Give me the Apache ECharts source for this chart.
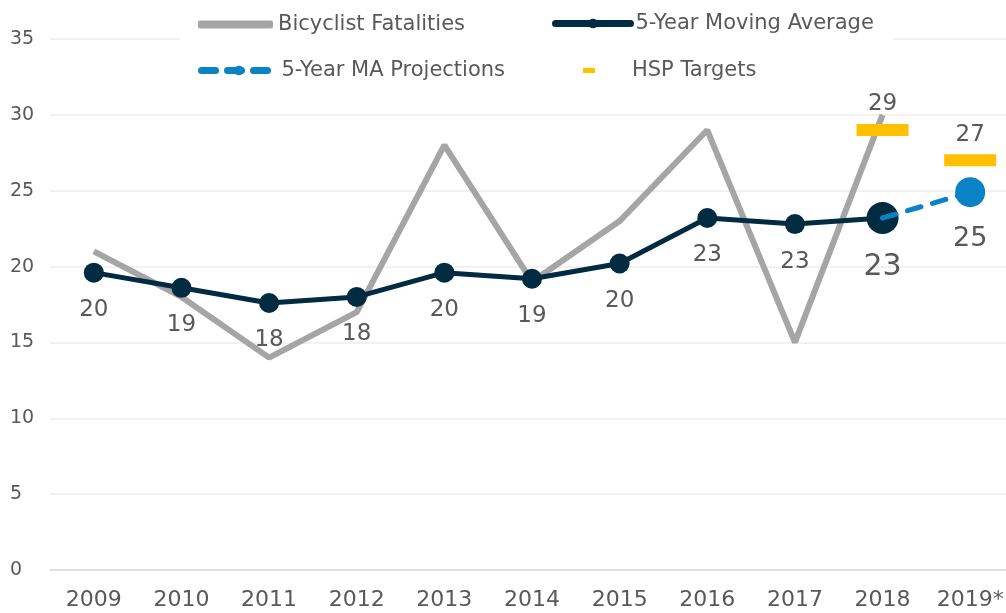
<!DOCTYPE html>
<html>
<head>
<meta charset="utf-8">
<script src="https://cdn.jsdelivr.net/npm/echarts@6/dist/echarts.min.js"></script>
<style>
  html, body { margin: 0; padding: 0; background: #fff; }
  #main { width: 1006px; height: 613px; }
</style>
</head>
<body>
<div id="main"></div>
<script>
const years = ['2009', '2010', '2011', '2012', '2013', '2014', '2015', '2016', '2017', '2018', '2019*'];
const fatalities = [21, 18, 14, 17, 28, 19, 23, 29, 15, 30, '-'];
const movingAvg = [19.6, 18.6, 17.6, 18.0, 19.6, 19.2, 20.2, 23.2, 22.8, 23.2, '-'];
const projections = ['-', '-', '-', '-', '-', '-', '-', '-', '-', 23.2, 24.9];
const targets = ['-', '-', '-', '-', '-', '-', '-', '-', '-', 29, 27];

const FONT = 'DejaVu Sans';
const TXT = '#595959';
const NAVY = '#002b41';
const GRAY = '#a5a5a5';
const BLUE = '#0a82c6';
const GOLD = '#ffc000';

const chart = echarts.init(document.getElementById('main'));

const round = p => Math.round(p.value);

// last MA point is drawn bigger, projection starts from it without a marker
const maData = movingAvg.map((v, i) => i === 9
  ? { value: v, symbolSize: 32, label: { fontSize: 30, distance: 18 } }
  : v);
const projData = projections.map((v, i) => i === 9
  ? { value: v, symbol: 'none', label: { show: false } }
  : v);

const legendText = { color: TXT, fontFamily: FONT, fontSize: 21 };
const legendBase = {
  padding: 0,
  z: 10,
  itemWidth: 75,
  itemHeight: 12,
  lineStyle: { width: 7, cap: 'round' },
  textStyle: legendText,
};

chart.setOption({
  animation: false,
  textStyle: { fontFamily: FONT },
  graphic: [{
    type: 'rect', left: 180, top: 0, z: 5,
    shape: { width: 713, height: 88 },
    style: { fill: '#fff' }
  }],
  legend: [
    Object.assign({}, legendBase, {
      left: 198, top: 14, itemHeight: 8,
      data: [{ name: 'Bicyclist Fatalities', icon: 'roundRect' }]
    }),
    Object.assign({}, legendBase, { left: 552, top: 13, data: ['5-Year Moving Average'] }),
    Object.assign({}, legendBase, { left: 198, top: 60, data: ['5-Year MA Projections'] }),
    Object.assign({}, legendBase, {
      left: 583, top: 60, itemWidth: 12, itemHeight: 5,
      textStyle: Object.assign({}, legendText, { padding: [0, 0, 0, 32] }),
      data: [{ name: 'HSP Targets', icon: 'rect' }]
    }),
  ],
  grid: { left: 50, width: 964, top: 39, bottom: 43, outerBoundsMode: 'none', containLabel: false },
  xAxis: {
    type: 'category',
    data: years,
    axisTick: { show: false },
    axisLine: { lineStyle: { color: '#d9d9d9', width: 1.5 } },
    axisLabel: { color: TXT, fontSize: 22, margin: 19, interval: 0, fontFamily: FONT }
  },
  yAxis: {
    type: 'value',
    min: 0, max: 35, interval: 5,
    axisLine: { show: false },
    axisTick: { show: false },
    splitLine: { lineStyle: { color: '#ececec', width: 1.5 } },
    axisLabel: { color: TXT, fontSize: 19, margin: 40, align: 'left', fontFamily: FONT }
  },
  series: [
    {
      name: 'Bicyclist Fatalities',
      type: 'line',
      data: fatalities,
      symbol: 'none',
      z: 2,
      lineStyle: { color: GRAY, width: 6 },
      itemStyle: { color: GRAY }
    },
    {
      name: '5-Year Moving Average',
      type: 'line',
      data: maData,
      symbol: 'circle',
      symbolSize: 20,
      z: 3,
      lineStyle: { color: NAVY, width: 5 },
      itemStyle: { color: NAVY },
      label: {
        show: true, position: 'bottom', distance: 16,
        color: TXT, fontSize: 23, formatter: round
      }
    },
    {
      name: '5-Year MA Projections',
      type: 'line',
      data: projData,
      symbol: 'circle',
      symbolSize: 30,
      z: 4,
      lineStyle: { color: BLUE, width: 5, type: [14, 12], cap: 'round' },
      itemStyle: { color: BLUE },
      label: {
        show: true, position: 'bottom', distance: 18,
        color: TXT, fontSize: 27, formatter: round
      }
    },
    {
      name: 'HSP Targets',
      type: 'scatter',
      data: targets,
      symbol: 'rect',
      symbolSize: [52, 12],
      z: 5,
      itemStyle: { color: GOLD, opacity: 1 },
      label: {
        show: true, position: 'top', distance: 8,
        color: TXT, fontSize: 23, formatter: round
      }
    }
  ]
});
</script>
</body>
</html>
